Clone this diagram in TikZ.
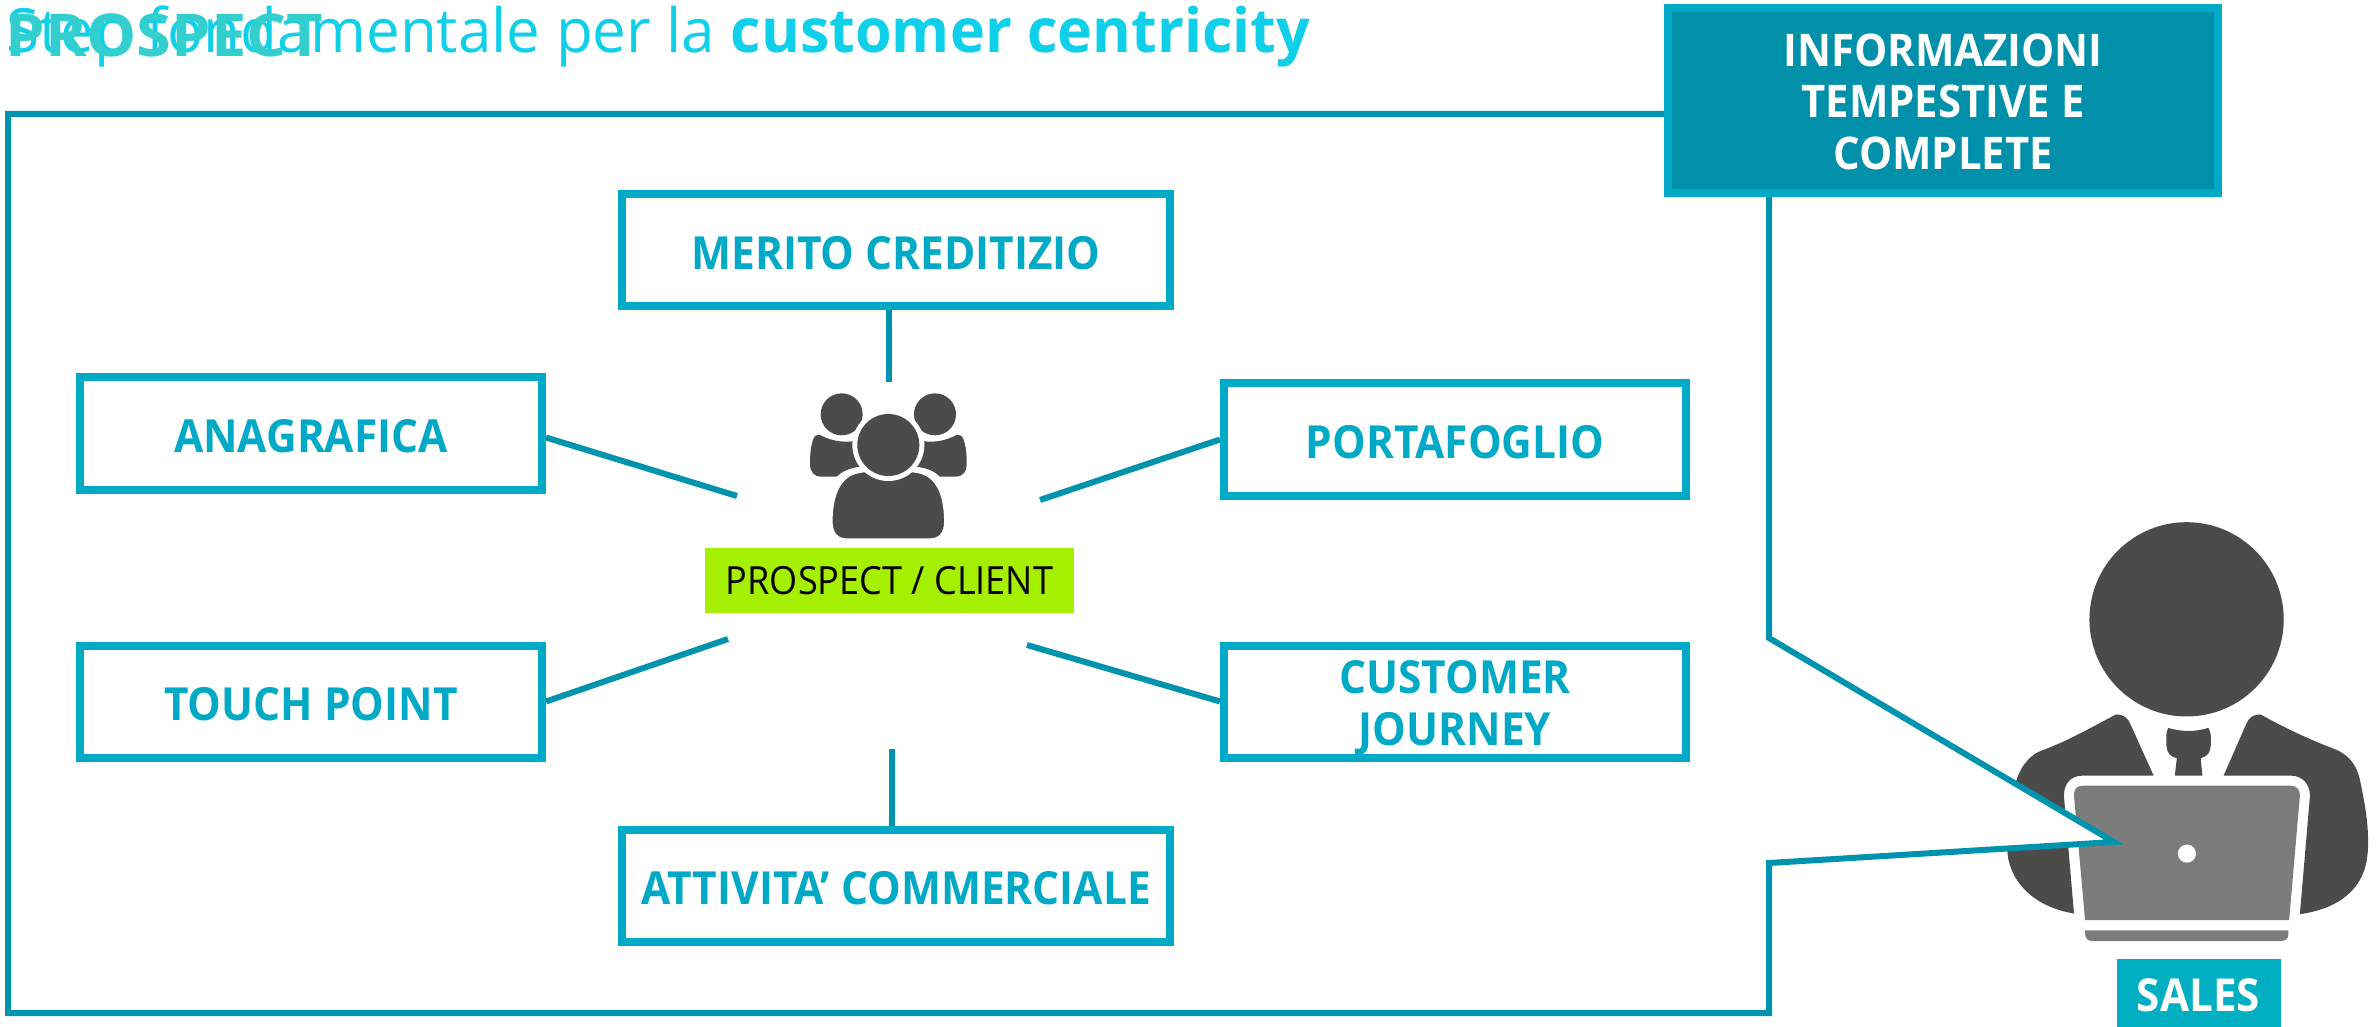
\documentclass[tikz,border=0pt]{standalone}
\usepackage{fontspec}
\setmainfont{Open Sans}
\definecolor{linec}{HTML}{0093AE}
\definecolor{boxc}{HTML}{00A9C5}
\definecolor{infofill}{HTML}{0090A9}
\definecolor{titlec}{HTML}{10CFE8}
\definecolor{prospc}{HTML}{33CFCF}
\definecolor{greenc}{HTML}{A5F000}
\definecolor{darkc}{HTML}{4B4B4A}
\definecolor{lapc}{HTML}{7C7C7B}
\definecolor{salesc}{HTML}{00AFC2}
\newfontfamily\bodyb[FakeStretch=0.93]{Open Sans Bold}
\newfontfamily\bodyr[FakeStretch=0.93]{Open Sans}
\newfontfamily\prospb[FakeStretch=1.07]{Open Sans Bold}
\newfontfamily\titleb[FakeStretch=0.97]{Open Sans Bold}
\newfontfamily\titler[FakeStretch=0.985]{Open Sans}
\tikzset{
  topic/.style={draw=boxc,line width=4pt,fill=white,inner sep=0pt,text=boxc,align=center,
    font=\bodyb\fontsize{22.8}{25.8}\selectfont,execute at begin node={\rule{0pt}{19.3pt}}},
  wide/.style={topic,minimum width=274pt,minimum height=56pt},
  narrow/.style={topic,minimum width=231pt,minimum height=56pt},
  link/.style={draw=linec,line width=3pt},
  dark/.style={fill=darkc,draw=none},
  lap/.style={fill=lapc,draw=none},
  caption/.style={anchor=base west,inner sep=0pt},
}
\begin{document}
\begin{tikzpicture}[x=0.5pt,y=-0.5pt]
\useasboundingbox (0,0) rectangle (2379,1027);
% title
\node[caption,text=titlec,font=\titler\fontsize{30.5}{36}\selectfont] (title) at (6,53) {Step fondamentale per la {\titleb customer centricity}};
\node[caption,text=prospc,font=\prospb\fontsize{29.5}{34}\selectfont] (prospect) at (5,57) {PROSPECT};
% person
\begin{scope}[shift={(1958,500)},x=0.16807pt,y=-0.16807pt]
\fill[darkc] (680,355) circle[radius=289];
\path[dark] (470,638) .. controls (495,638) and (505,650) .. (512,665) -- (582,820) -- (370,820)
  .. controls (335,820) and (315,845) .. (315,880) -- (345,1230)
  .. controls (250,1215) and (170,1160) .. (150,1070) .. controls (140,1020) and (150,900) .. (175,830)
  .. controls (190,785) and (220,755) .. (250,745) .. controls (330,715) and (390,680) .. (470,638) -- cycle;
\path[dark] (900,638) .. controls (875,638) and (865,650) .. (858,665) -- (790,820) -- (990,820)
  .. controls (1025,820) and (1047,845) .. (1047,880) -- (1017,1232)
  .. controls (1120,1218) and (1190,1170) .. (1212,1090) .. controls (1230,1020) and (1215,920) .. (1195,830)
  .. controls (1185,785) and (1160,760) .. (1130,745) .. controls (1040,710) and (980,682) .. (900,638) -- cycle;
\path[dark] (625,678) .. controls (665,690) and (705,690) .. (745,678) .. controls (755,695) and (752,710) .. (752,730)
  .. controls (752,750) and (740,765) .. (722,768) -- (727,820) -- (645,820) -- (651,768)
  .. controls (632,765) and (620,750) .. (620,730) .. controls (620,710) and (617,695) .. (625,678) -- cycle;
\path[lap] (370,850) -- (990,850) .. controls (1008,850) and (1018,862) .. (1017,880) -- (985,1250) -- (378,1250)
  -- (345,880) .. controls (344,862) and (352,850) .. (370,850) -- cycle;
\fill[white] (681,1052) circle[radius=27];
\path[lap] (378,1280) -- (983,1280) -- (983,1290) .. controls (983,1305) and (975,1312) .. (960,1312) -- (400,1312)
  .. controls (387,1312) and (378,1305) .. (378,1290) -- cycle;
\end{scope}
% callout outline
\coordinate (co1) at (8,114);
\coordinate (co2) at (8,1013);
\coordinate (co3) at (1769,1013);
\coordinate (co4) at (1769,863);
\coordinate (tip) at (2114,842);
\coordinate (co5) at (1769,638);
\coordinate (co6) at (1769,190);
\coordinate (co7) at (1670,114);
\draw[link,fill=white,line join=miter] (co7) -- (co1) -- (co2) -- (co3) -- (co4) -- (tip) -- (co5) -- (co6);
% info box
\node[draw=boxc,line width=4pt,fill=infofill,text=white,inner sep=0pt,align=center,
  minimum width=275pt,minimum height=92.5pt,font=\bodyb\fontsize{22.5}{25.7}\selectfont] (info) at (1943,100.5)
  {\rule{0pt}{17.5pt}INFORMAZIONI\\TEMPESTIVE E\\COMPLETE};
% sales
\node[fill=salesc,text=white,inner sep=0pt,minimum width=82pt,minimum height=34pt,
  font=\bodyb\fontsize{22.7}{25}\selectfont] (sales) at (2198.5,993) {\rule{0pt}{19.2pt}SALES};
% topic boxes
\node[wide] (merito) at (896,250) {MERITO CREDITIZIO};
\node[wide] (attivita) at (896,885.5) {ATTIVITA’ COMMERCIALE};
\node[narrow] (anagrafica) at (311,433.5) {ANAGRAFICA};
\node[narrow] (touch) at (311,701.5) {TOUCH POINT};
\node[narrow] (portafoglio) at (1455,439.5) {PORTAFOGLIO};
\node[narrow] (journey) at (1455,701.5) {\rule{0pt}{22.5pt}CUSTOMER\\JOURNEY};
% group icon
\begin{scope}[shift={(780,370)},x=0.16667pt,y=-0.16667pt]
\path[dark] (120,195) .. controls (145,208) and (180,220) .. (225,213) -- (240,290) .. controls (205,295) and (185,305) .. (170,320) -- (125,320)
  .. controls (100,320) and (90,305) .. (90,280) .. controls (90,250) and (93,225) .. (100,207) .. controls (104,197) and (112,192) .. (120,195) -- cycle;
\path[dark] (530,195) .. controls (505,208) and (470,220) .. (425,213) -- (410,290) .. controls (445,295) and (465,305) .. (480,320) -- (525,320)
  .. controls (550,320) and (560,305) .. (560,280) .. controls (560,250) and (557,225) .. (550,207) .. controls (546,197) and (538,192) .. (530,195) -- cycle;
\fill[white] (185,133) circle[radius=76];
\fill[white] (465,133) circle[radius=76];
\fill[darkc] (185,133) circle[radius=63];
\fill[darkc] (465,133) circle[radius=63];
\path[fill=darkc,draw=white,line width=1.6pt] (235,305) .. controls (285,295) and (365,295) .. (415,305)
  .. controls (470,315) and (497,370) .. (497,455) .. controls (497,490) and (480,510) .. (450,510) -- (200,510)
  .. controls (170,510) and (153,490) .. (153,455) .. controls (153,370) and (180,315) .. (235,305) -- cycle;
\fill[white] (325,225) circle[radius=108];
\fill[darkc] (325,225) circle[radius=93];
\end{scope}
% prospect / client
\node[fill=greenc,text=black,inner sep=0pt,minimum width=184.5pt,minimum height=32.5pt,
  font=\bodyr\fontsize{19.4}{22}\selectfont] (client) at (889.5,580.5) {PROSPECT / CLIENT};
% connectors
\coordinate (c1) at (889,382);
\coordinate (c2) at (892,749);
\coordinate (c3) at (737,496);
\coordinate (c4) at (1040,500);
\coordinate (c5) at (728,639);
\coordinate (c6) at (1027,645);
\draw[link] (merito.south -| c1) -- (c1);
\draw[link] (attivita.north -| c2) -- (c2);
\draw[link] (anagrafica.east) ++(0,4) -- (c3);
\draw[link] (portafoglio.west) -- (c4);
\draw[link] (touch.east) -- (c5);
\draw[link] (journey.west) -- (c6);
\end{tikzpicture}
\end{document}
